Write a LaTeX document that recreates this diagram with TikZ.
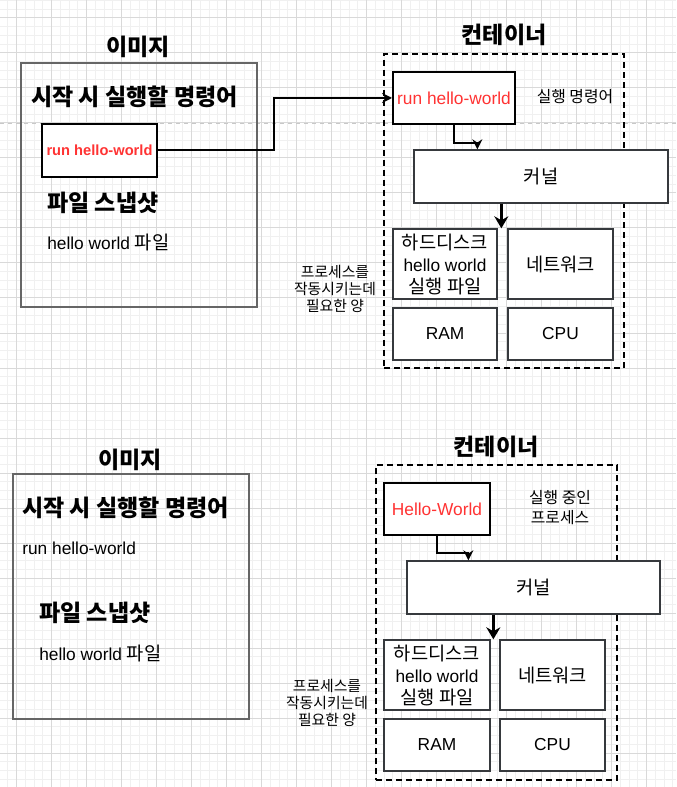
\documentclass[tikz,border=0pt]{standalone}
\usepackage{fontspec}
\setmainfont{Liberation Sans}
\newfontfamily\kr[Scale=1.08]{Noto Sans CJK KR}
\usetikzlibrary{arrows.meta, calc}
\definecolor{gridminor}{HTML}{F0F0F0}
\definecolor{gridmajor}{HTML}{D9D9D9}
\definecolor{boxline}{HTML}{666666}
\definecolor{hwline}{HTML}{36393D}
\definecolor{cmdred}{HTML}{FF3333}
\definecolor{guide}{HTML}{C8C8C8}

\begin{document}
\begin{tikzpicture}[x=0.75pt, y=-0.75pt,
  every node/.style={inner sep=0pt, align=center},
  bigtitle/.style={font=\kr\bfseries\fontsize{16}{18}\selectfont},
  heading/.style={font=\kr\bfseries\fontsize{16}{18}\selectfont, anchor=west},
  bodytext/.style={font=\fontsize{13}{16}\selectfont, anchor=west},
  imgbox/.style={draw=boxline, line width=1.1pt},
  cmdbox/.style={draw=black, line width=1.5pt, fill=white, text=cmdred},
  hwbox/.style={draw=hwline, line width=1pt, fill=white, font=\fontsize{13}{16.5}\selectfont},
  contbox/.style={draw=black, line width=1.5pt, dash pattern=on 4.5pt off 3pt},
  sidenote/.style={font=\kr\fontsize{10.3}{12.8}\selectfont},
  flow/.style={draw=black, line width=1.5pt, -{Stealth[length=7.5pt, width=7.5pt]}},
  push/.style={draw=black, line width=2.25pt, -{Stealth[length=9pt, width=10.5pt]}}
]
  \fill[white] (0,0) rectangle (676,787);
  \useasboundingbox (0,0) rectangle (676,787);
  % grid
  \foreach \i in {0,...,77} \draw[gridminor, line width=0.75pt] ({7.75+8.75*\i},0) -- ({7.75+8.75*\i},787);
  \foreach \i in {0,...,89} \draw[gridminor, line width=0.75pt] (0,{0.5+8.75*\i}) -- (676,{0.5+8.75*\i});
  \foreach \i in {0,...,18} \draw[gridmajor, line width=0.75pt] ({16.5+35*\i},0) -- ({16.5+35*\i},787);
  \foreach \i in {0,...,21} \draw[gridmajor, line width=0.75pt] (0,{18+35*\i}) -- (676,{18+35*\i});
  \draw[guide, line width=0.75pt, dash pattern=on 3pt off 3pt] (0,124) -- (676,124);

  % before: image and container
  \node[bigtitle] (imgTitleA) at (138,47) {이미지};
  \node[imgbox, minimum width=177pt, minimum height=183pt] (imgA) at (139,185) {};
  \node[heading] (startA) at (31,97) {시작 시 실행할 명령어};
  \node[cmdbox, minimum width=86.25pt, minimum height=39.75pt,
        font=\bfseries\fontsize{11}{13}\selectfont] (runA) at (99.5,150.5) {run hello-world};
  \node[heading] (snapA) at (47,203) {파일 스냅샷};
  \node[bodytext] (fileA) at (47,242) {hello world {\kr 파일}};

  \node[bigtitle] (contTitleA) at (504,35) {컨테이너};
  \node[contbox, minimum width=180pt, minimum height=235.5pt] (contA) at (504,211) {};
  \node[cmdbox, minimum width=91.5pt, minimum height=39pt,
        font=\fontsize{13}{16}\selectfont] (runB) at (454,98) {run hello-world};
  \node[font=\kr\fontsize{11}{13}\selectfont] (cmdNoteA) at (575,97) {실행 명령어};
  \node[hwbox, minimum width=190.5pt, minimum height=39.75pt] (kernelA) at (541,176.5) {{\kr 커널}};
  \node[hwbox, minimum width=78pt, minimum height=52.5pt] (diskA) at (445,264) {{\kr 하드디스크}\\hello world\\{\kr 실행 파일}};
  \node[hwbox, minimum width=78.75pt, minimum height=52.5pt] (netA) at (560.5,264) {{\kr 네트워크}};
  \node[hwbox, minimum width=78pt, minimum height=39pt] (ramA) at (445,334) {RAM};
  \node[hwbox, minimum width=78.75pt, minimum height=39pt] (cpuA) at (560.5,334) {CPU};
  \node[sidenote] (needA) at (335,289) {프로세스를\\작동시키는데\\필요한 양};

  \coordinate (bendA) at (274,98);
  \draw[flow] (runA.east) -| (bendA) -- (runB.west);
  \draw[flow] (runB.south) -- ++(0,18) -| ($(kernelA.north west)+(64,0)$);
  \coordinate (dropA) at ($(kernelA.south west)+(88,0)$);
  \draw[push] (dropA) -- (dropA |- diskA.north);

  % after: image and running container
  \node[bigtitle] (imgTitleB) at (130,460) {이미지};
  \node[imgbox, minimum width=177pt, minimum height=183.75pt] (imgB) at (131,596.5) {};
  \node[heading] (startB) at (22,508) {시작 시 실행할 명령어};
  \node[bodytext] (runTextB) at (22,548) {run hello-world};
  \node[heading] (snapB) at (39,613) {파일 스냅샷};
  \node[bodytext] (fileB) at (39,653) {hello world {\kr 파일}};

  \node[bigtitle] (contTitleB) at (496,447) {컨테이너};
  \node[contbox, minimum width=180.75pt, minimum height=236.25pt] (contB) at (496.5,622.5) {};
  \node[cmdbox, minimum width=79.5pt, minimum height=39pt,
        font=\fontsize{13}{16}\selectfont] (helloB) at (437,509) {Hello-World};
  \node[font=\kr\fontsize{11}{14.5}\selectfont] (procNoteB) at (560,507.5) {실행 중인\\프로세스};
  \node[hwbox, minimum width=189.75pt, minimum height=39.75pt] (kernelB) at (533.5,587.5) {{\kr 커널}};
  \node[hwbox, minimum width=79.5pt, minimum height=52.5pt] (diskB) at (437,675) {{\kr 하드디스크}\\hello world\\{\kr 실행 파일}};
  \node[hwbox, minimum width=78.75pt, minimum height=52.5pt] (netB) at (552.5,675) {{\kr 네트워크}};
  \node[hwbox, minimum width=79.5pt, minimum height=39pt] (ramB) at (437,745) {RAM};
  \node[hwbox, minimum width=78.75pt, minimum height=39pt] (cpuB) at (552.5,745) {CPU};
  \node[sidenote] (needB) at (327,703) {프로세스를\\작동시키는데\\필요한 양};

  \draw[flow] (helloB.south) -- ++(0,17) -| ($(kernelB.north west)+(62,0)$);
  \coordinate (dropB) at ($(kernelB.south west)+(87,0)$);
  \draw[push] (dropB) -- (dropB |- diskB.north);
\end{tikzpicture}
\end{document}
